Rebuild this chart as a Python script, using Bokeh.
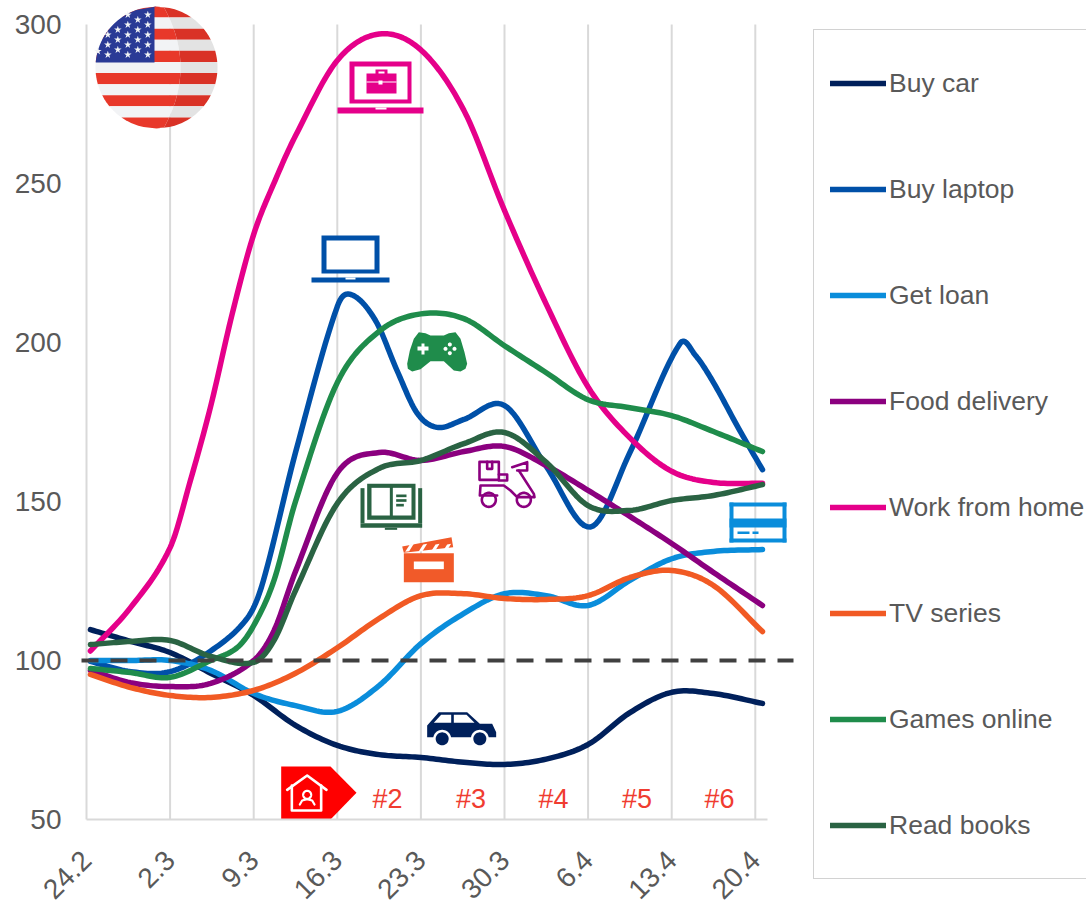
import math
from bokeh.plotting import figure
from bokeh.models import Range1d, FixedTicker, Legend, LegendItem
from bokeh.core.properties import value
from bokeh.embed import file_html
from bokeh.resources import INLINE

FONT = "Liberation Sans"
GREY = "#595959"

# ---------- data ----------
days = [0.33, 3.7, 7.0, 10.4, 14.0, 17.5, 21.0, 24.5, 28.0, 31.6, 35.0, 38.5, 42.0, 45.5, 49.0, 52.5, 56.6]
laptop_days = [0.33, 3.7, 7.0, 10.4, 13.5, 14.8, 17.5, 21.0, 22.2, 24.2, 26.0, 27.7, 29.4, 31.6, 35.0, 38.5, 42.2, 45.5, 49.7, 51.0, 52.5, 54.6, 56.6]
wfh_days = [0.33, 3.7, 7.0, 8.7, 10.4, 12.2, 14.0, 15.8, 17.5, 21.0, 24.5, 28.0, 31.6, 35.0, 38.5, 42.0, 45.5, 49.0, 52.5, 56.6]
games_days = [0.33, 3.7, 7.0, 10.4, 12.6, 14.0, 15.7, 17.5, 21.0, 24.5, 28.0, 31.6, 35.0, 38.5, 42.0, 45.5, 49.0, 52.5, 56.6]
food_days = [0.33, 3.7, 7.0, 10.4, 14.0, 15.7, 17.5, 21.0, 24.5, 28.0, 31.6, 35.0, 38.5, 42.0, 45.5, 49.0, 52.5, 56.6]
books_days = food_days
buy_car = [109.7, 106, 102.5, 96, 89, 79.6, 73.3, 70.4, 69.5, 68, 67.3, 69, 73.6, 83.6, 90, 89.6, 86.5]
buy_laptop = [99.7, 96.5, 96.5, 103, 113.5, 125, 165.4, 211.3, 215, 206.9, 191.2, 177.7, 173.3, 175.8, 180.2, 161, 142, 165.4, 199.7, 195.9, 187.4, 173, 160]
get_loan = [100, 100, 100, 96.9, 89.6, 85.8, 84, 92.1, 105.3, 114.8, 121, 120.4, 117.3, 125.2, 132, 134.3, 134.9]
food_delivery = [96.9, 93, 91.8, 92.8, 100, 109.4, 128, 159, 165.4, 162.9, 165.7, 167.3, 161.3, 153.5, 145.3, 136.8, 127.7, 117.3]
work_from_home = [103, 116.7, 135.5, 156.6, 180, 209, 234, 251, 265, 288.7, 297, 292, 273, 241.5, 212, 186, 170, 159.5, 156, 155.7]
tv_series = [95.6, 91.5, 89, 88.4, 90.6, 96, 104, 113.2, 120.4, 121, 119.5, 119.2, 120.4, 126.1, 128.3, 123.6, 109.1]
games_online = [97.5, 96.2, 94.7, 100, 104, 111, 125.2, 150, 187.4, 203.5, 209, 207.5, 199, 190.5, 182, 179.5, 177, 172, 165.7]
read_books = [105, 106, 106.3, 101.3, 99.4, 106.3, 122, 149.4, 160.4, 162.9, 168.2, 171.7, 162.3, 148.7, 147.2, 150.3, 151.9, 155.3]

series_names = ["Buy car", "Buy laptop", "Get loan", "Food delivery", "Work from home", "TV series", "Games online", "Read books"]
series_values = [buy_car, buy_laptop, get_loan, food_delivery, work_from_home, tv_series, games_online, read_books]
series_days = [days, laptop_days, days, food_days, wfh_days, days, games_days, books_days]
series_colors = ["#00205b", "#0050a8", "#0a8ddb", "#8b007f", "#e5008a", "#f15a24", "#1f8c4b", "#2a6343"]

tick_days = [0, 7, 14, 21, 28, 35, 42, 49, 56]
tick_labels = ["24.2", "2.3", "9.3", "16.3", "23.3", "30.3", "6.4", "13.4", "20.4"]
y_ticks = [50, 100, 150, 200, 250, 300]
phase_labels = ["#2", "#3", "#4", "#5", "#6"]
phase_days = [25.2, 32.2, 39.1, 46.1, 53]
phase_value = 56.5
baseline = 100

# ---------- scales ----------
PX_DAY = 83.6 / 7
PX_VAL = 3.18
def dx(px): return (px - 86) / PX_DAY
def dy(py): return 100 + (660 - py) / PX_VAL
def pts(P): return [dx(a) for a, _ in P], [dy(b) for _, b in P]

p = figure(width=1086, height=904, output_backend="svg", toolbar_location=None,
           x_range=Range1d(dx(0), dx(1086)), y_range=Range1d(dy(904), dy(0)),
           min_border_left=0, min_border_right=0, min_border_top=0, min_border_bottom=0,
           outline_line_color=None, background_fill_color="white")
p.grid.visible = False

xa, ya = p.xaxis[0], p.yaxis[0]
xa.fixed_location = 50
xa.ticker = FixedTicker(ticks=tick_days)
xa.major_label_overrides = {d: t for d, t in zip(tick_days, tick_labels)}
xa.major_label_orientation = math.pi / 4
xa.bounds = (0, 57)
xa.axis_line_color = "#d9d9d9"
xa.axis_line_width = 2
xa.major_tick_line_color = None
xa.minor_tick_line_color = None
xa.major_label_text_font = FONT
xa.major_label_text_font_size = "28px"
xa.major_label_text_color = GREY
xa.major_label_standoff = 30

ya.fixed_location = dx(70)
ya.ticker = FixedTicker(ticks=y_ticks)
ya.bounds = (50, 300)
ya.axis_line_color = None
ya.major_tick_line_color = None
ya.minor_tick_line_color = None
ya.major_label_text_font = FONT
ya.major_label_text_font_size = "28px"
ya.major_label_text_color = GREY
ya.major_label_standoff = 3

# gridlines
p.segment(x0=tick_days, x1=tick_days, y0=[50] * 9, y1=[300] * 9, line_color="#d9d9d9", line_width=2)

# ---------- smoothing (Catmull-Rom, as a spreadsheet's smoothed line) ----------
def smooth(xs, ys, n=14):
    X, Y = [], []
    m = len(xs)
    for i in range(m - 1):
        x0, x1 = xs[i], xs[i + 1]
        y0, y1 = ys[i], ys[i + 1]
        h = x1 - x0
        m0 = (y1 - ys[i - 1]) / (x1 - xs[i - 1]) if i > 0 else (y1 - y0) / h
        m1 = (ys[i + 2] - y0) / (xs[i + 2] - x0) if i < m - 2 else (y1 - y0) / h
        for k in range(n):
            t = k / n
            a = 2*t**3 - 3*t**2 + 1; b = t**3 - 2*t**2 + t; c = -2*t**3 + 3*t**2; d = t**3 - t**2
            X.append(x0 + h * t)
            Y.append(a*y0 + b*h*m0 + c*y1 + d*h*m1)
    X.append(xs[-1]); Y.append(ys[-1])
    return X, Y

renderers = []
for name, ds, vals, col in zip(series_names, series_days, series_values, series_colors):
    X, Y = smooth(ds, vals)
    r = p.line(X, Y, line_color=col, line_width=5.5, line_cap="round", line_join="round")
    renderers.append(r)

# baseline
p.line([dx(81), dx(793)], [baseline, baseline], line_color="#404040", line_width=4, line_dash="17 12")

# ---------- icons (decoration, placed in pixels) ----------
def boxes(rects):
    p.quad(left=[dx(r[0]) for r in rects], right=[dx(r[2]) for r in rects],
           top=[dy(r[1]) for r in rects], bottom=[dy(r[3]) for r in rects],
           fill_color=[r[4] for r in rects], line_color=None)
def poly(P, color):
    x, y = pts(P)
    p.patch(x, y, fill_color=color, line_color=None)
def ring(cx, cy, rr, n=40):
    return [(cx + rr * math.cos(2*math.pi*i/n), cy + rr * math.sin(2*math.pi*i/n)) for i in range(n)]
def zoom(P, ox, oy):
    return [(ox + a / 3, oy + b / 3) for a, b in P]
def stroke(P, color, w=2.6):
    x, y = pts(P)
    p.line(x, y, line_color=color, line_width=w, line_join="round", line_cap="round")

# flag
CX, CY, R = 156, 67, 61
def band(y0, y1, color, dark):
    L, Rt, D = [], [], []
    steps = 8
    for i in range(steps + 1):
        y = y0 + (y1 - y0) * i / steps
        hw = math.sqrt(max(R*R - (y - CY)**2, 0))
        split = 180 - 17 * ((y - CY) / R) ** 2
        L.append((CX - hw, y)); Rt.append((min(split, CX + hw), y)); D.append((CX + hw, y))
    poly(L + Rt[::-1], color)
    poly(Rt + D[::-1], dark)
for i in range(11):
    y0 = 6 + i * 122 / 11
    if i % 2 == 0:
        band(y0, y0 + 122 / 11, "#e8382a", "#d93226")
    else:
        band(y0, y0 + 122 / 11, "#f2f3f5", "#e3e3e3")
cant = []
for i in range(17):
    y = 6 + 56 * i / 16
    cant.append((CX - math.sqrt(max(R*R - (y - CY)**2, 0)), y))
poly(cant + [(154, 62), (154, 6)], "#2a3a96")
stars = [(142,43),(202,43),(172,58),(142,73),(202,73),(112,88),(172,88),(82,103),(142,103),(202,103),
         (112,118),(172,118),(82,133),(142,133),(202,133),(112,148),(172,148),(82,163),(142,163),(202,163),(52,152)]
sx, sy = pts(zoom(stars, 80, 0))
p.scatter(sx, sy, marker="star", size=8, fill_color="#f2f3f5", line_color=None)

# pink laptop
c = "#e5008a"
boxes([(349,61,411,103,c),(354,66,407,99,"white"),(337,107,423,113,c),(375,107,386,109,"white"),
       (375,69,387,74,c),(378,71,384,74,"white"),(366,73,396,93,c),(366,81,396,82,"white"),(378,80,382,84,"white")])
# blue laptop
c = "#0050a8"
boxes([(321,235,379,273,c),(326,240,374,269,"white"),(311,277,389,282,c),(345,277,355,279,"white")])

# gamepad
c = "#1f8c4b"
poly(zoom([(205,35),(225,38),(240,45),(280,45),(295,38),(315,35),(330,55),(342,95),(350,130),(345,145),(330,153),(310,150),(280,122),(240,122),(210,146),(185,153),(172,145),(170,130),(178,90),(190,55)], 350, 320), c)
boxes([(417,346,428,350,"white"),(421,343,424,354,"white")])
for (a, b) in [(298,72),(285,85),(312,85),(298,98)]:
    q = zoom([(a, b)], 350, 320)[0]
    poly(ring(q[0], q[1], 2), "white")

# book
c = "#2a6343"
def zb(a, b, e, f, col):
    return (350 + a/3, 320 + b/3, 350 + e/3, 320 + f/3, col)
boxes([zb(50,490,195,598,c),zb(63,502,118,585,"white"),zb(127,502,183,585,"white"),
       zb(30,503,42,608,c),zb(203,503,215,608,c),zb(30,608,215,622,c),zb(103,622,140,628,c),
       zb(137,522,168,530,c),zb(137,536,168,544,c),zb(137,550,160,558,c)])

# clapper
c = "#f15a29"
boxes([zb(160,698,310,785,c),zb(190,723,280,746,"white")])
poly(zoom([(155,678),(303,650),(308,680),(160,697)], 350, 320), c)
for a in (178, 218, 255, 290):
    poly(zoom([(a,672),(a+12,670),(a-2,692),(a-14,694)], 350, 320), "white")

# scooter
c = "#8b007f"
for path in ([(387,424),(445,424),(445,478),(387,478),(387,424)],
             [(410,424),(410,445),(425,445),(425,424)],
             [(445,462),(470,462),(470,480),(445,480)],
             [(485,440),(530,425),(530,450),(500,450)],
             [(505,450),(550,520),(552,530),(500,530),(480,510),(460,495),(390,495),(388,525),(440,525)]):
    stroke(zoom(path, 350, 320), c)
for a in (415, 520):
    q = zoom([(a, 538)], 350, 320)[0]
    stroke(ring(q[0], q[1], 7) + [ring(q[0], q[1], 7)[0]], c)

# card
c = "#0a8ddb"
boxes([(729,502,786,506,c),(729,538,786,542,c),(729,502,733,542,c),(782,502,786,542,c),(729,518,786,527,c),
       (737,531,749,533.5,c),(752,531,758,533.5,c)])

# car
c = "#00205b"
poly(zoom([(470,105),(505,65),(590,65),(628,100),(665,100),(677,125),(677,140),(470,140)], 270, 690), c)
poly(zoom([(490,97),(512,73),(542,73),(542,97)], 270, 690), "white")
poly(zoom([(550,73),(588,73),(612,97),(550,97)], 270, 690), "white")
for a in (515, 628):
    q = zoom([(a, 145)], 270, 690)[0]
    poly(ring(q[0], q[1], 9), "white")
    poly(ring(q[0], q[1], 6.5), c)

# home tag
poly(zoom([(32,228),(180,228),(258,307),(180,387),(32,387)], 270, 690), "#ff0000")
stroke(zoom([(50,298),(110,255),(168,298)], 270, 690), "white", 2.6)
stroke(zoom([(64,285),(64,360),(152,360),(152,285)], 270, 690), "white", 2.6)
q = zoom([(110, 313)], 270, 690)[0]
stroke(ring(q[0], q[1], 4) + [ring(q[0], q[1], 4)[0]], "white", 2.2)
stroke(zoom([(88,342),(95,330),(110,326),(125,330),(132,342)], 270, 690), "white", 2.2)

# phase labels
p.text(x=phase_days, y=[phase_value] * 5, text=phase_labels, text_font=value(FONT), text_font_size="27px",
       text_color="#f03c30", text_align="center", text_baseline="middle")

# legend
legend = Legend(items=[LegendItem(label=value(n), renderers=[r]) for n, r in zip(series_names, renderers)],
                location=(813, 25), orientation="vertical", padding=16, spacing=32,
                glyph_width=56, glyph_height=74, label_height=74, label_standoff=3,
                margin=0, background_fill_color="white", background_fill_alpha=1,
                border_line_color="#a6a6a6", border_line_width=1.5,
                label_text_font=FONT, label_text_font_size="26.5px", label_text_color=GREY)
p.add_layout(legend)

open("out.html", "w").write(file_html(p, INLINE))
